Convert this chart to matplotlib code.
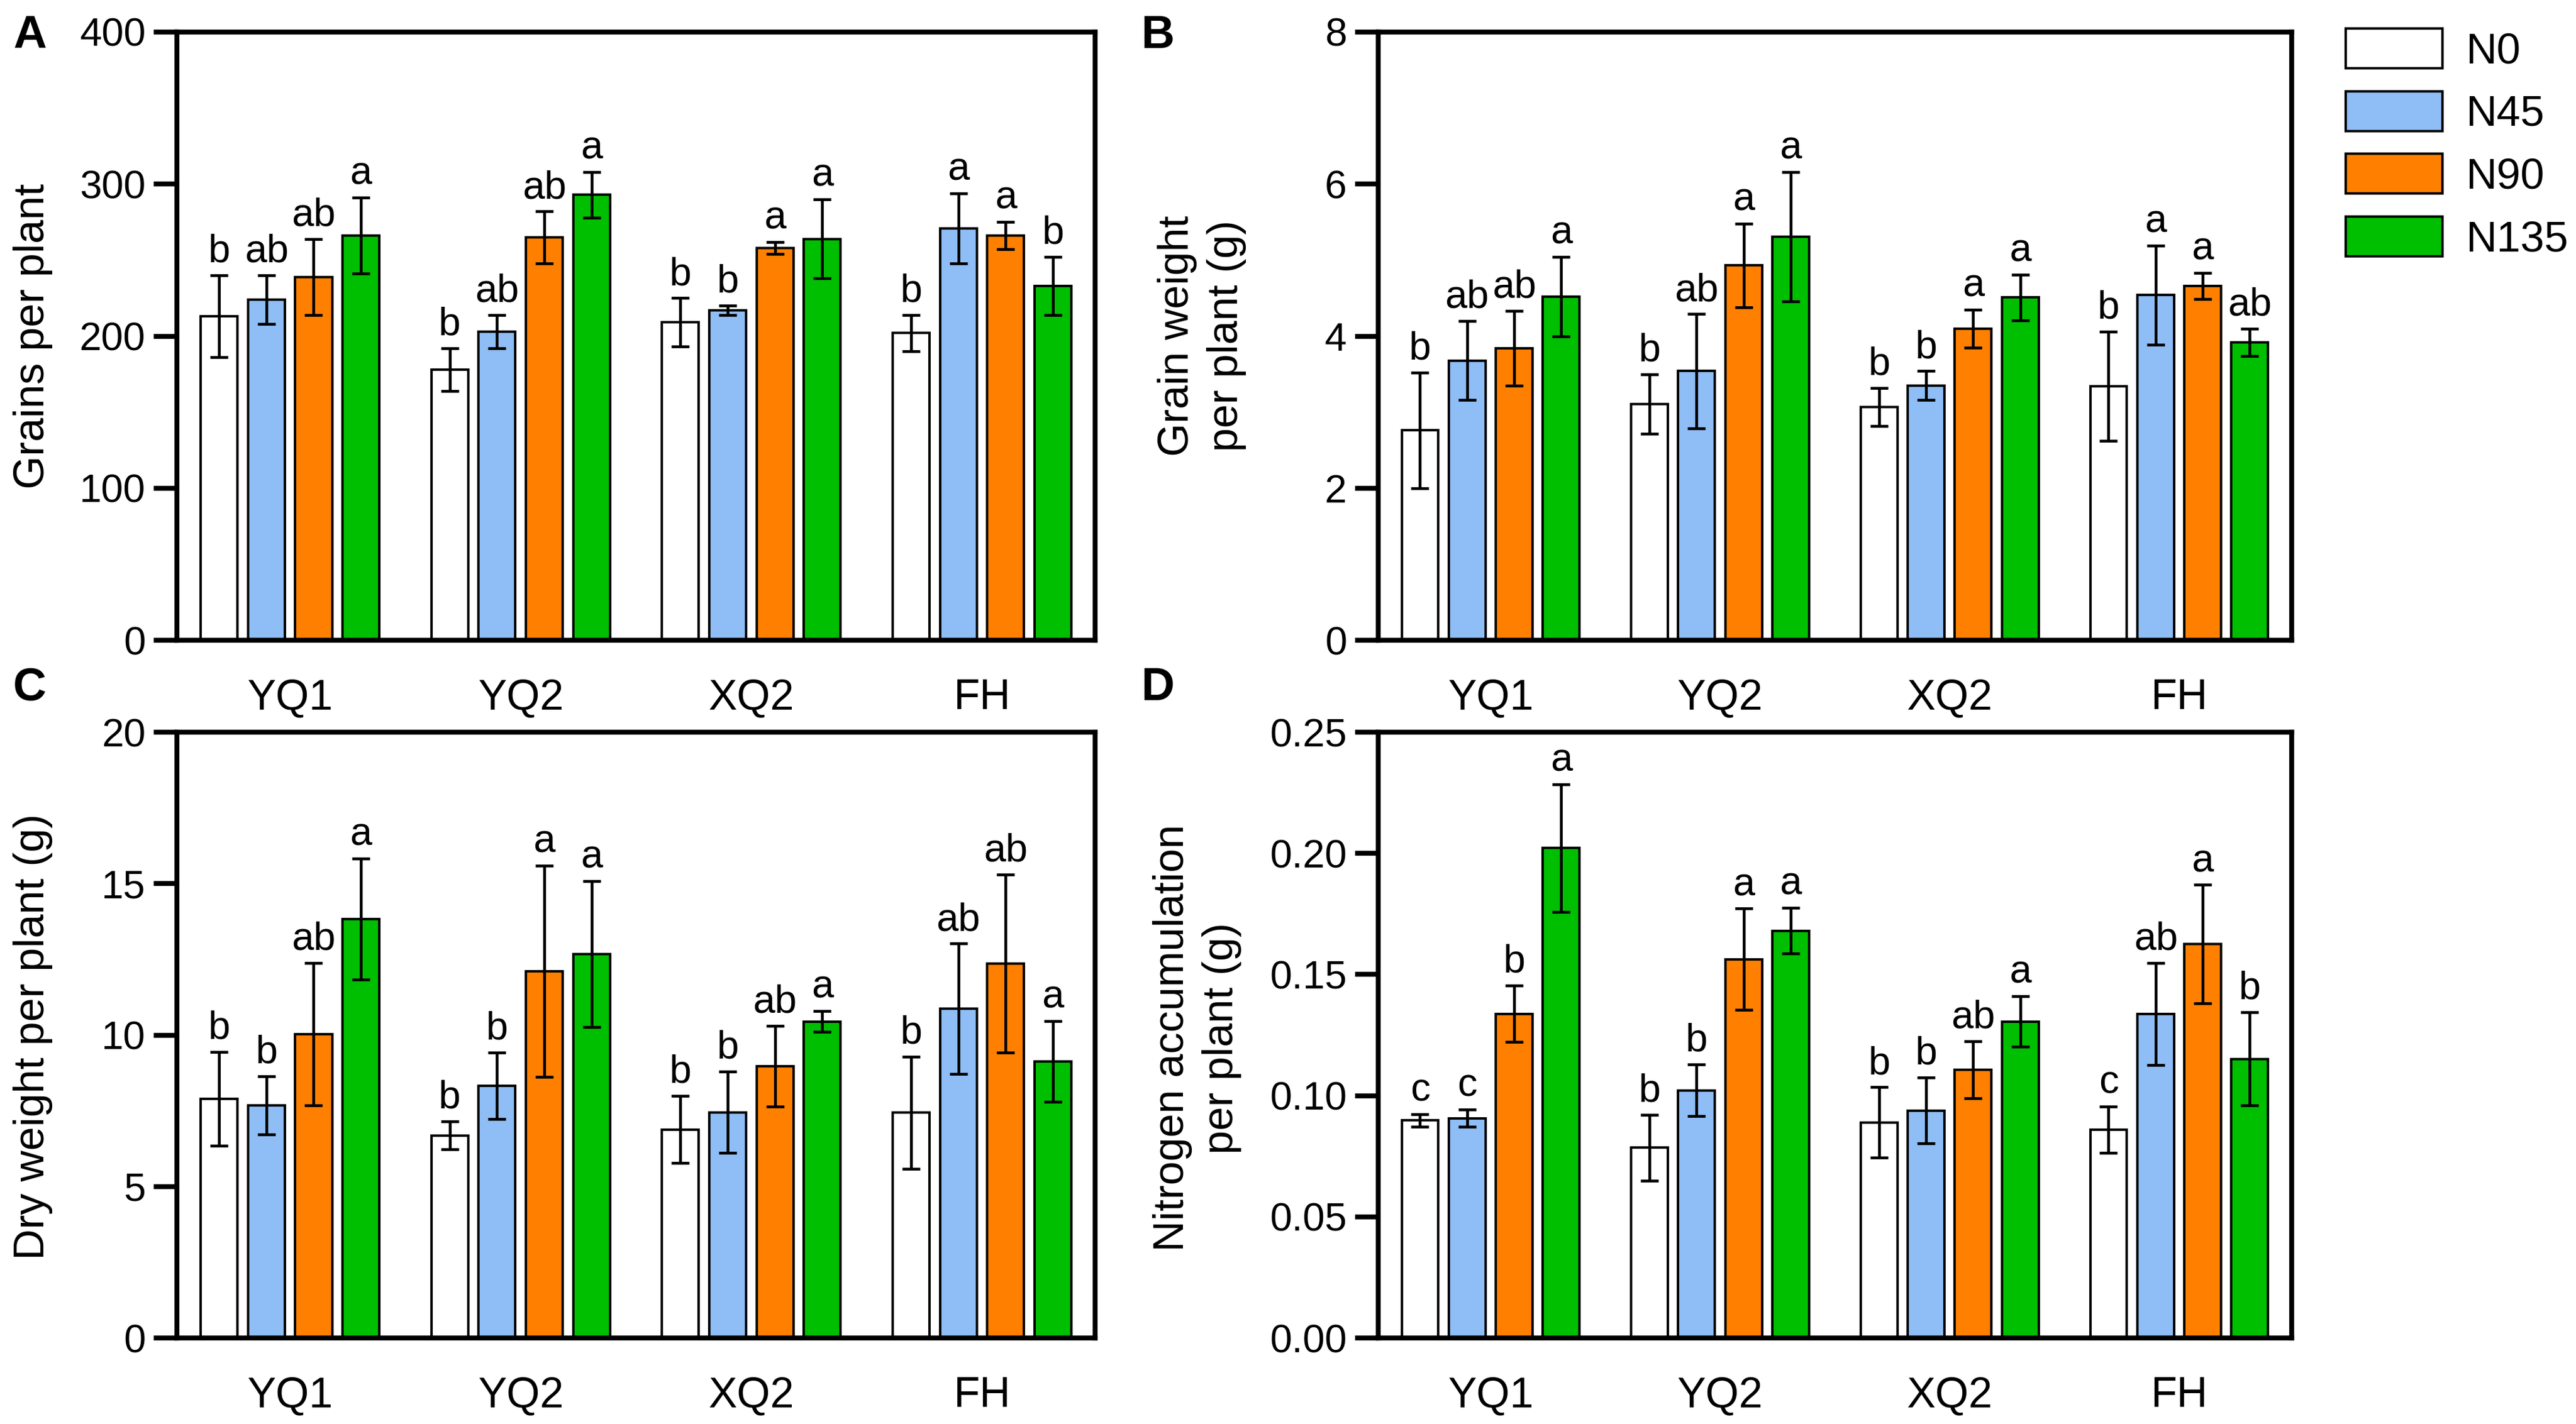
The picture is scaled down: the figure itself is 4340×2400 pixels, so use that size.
import numpy as np
import matplotlib
matplotlib.use("Agg")
import matplotlib.pyplot as plt
from matplotlib.patches import Patch
from matplotlib.ticker import FormatStrFormatter

plt.rcParams['font.family'] = ['Liberation Sans', 'DejaVu Sans']

cultivars = ['YQ1', 'YQ2', 'XQ2', 'FH']
treatments = ['N0', 'N45', 'N90', 'N135']
colors = ['#ffffff', '#8fbdf6', '#ff8000', '#00bf00']

# panel A - grains per plant
grains_mean = [[213, 178, 209, 202],
               [224, 203, 217, 271],
               [239, 265, 258, 266],
               [266, 293, 264, 233]]
grains_err = [[27, 14, 16, 12],
              [16, 11, 3, 23],
              [25, 17, 4, 9],
              [25, 15, 26, 19]]
grains_sig = [['b', 'b', 'b', 'b'],
              ['ab', 'ab', 'b', 'a'],
              ['ab', 'ab', 'a', 'a'],
              ['a', 'a', 'a', 'b']]

# panel B - grain weight per plant
gw_mean = [[2.76, 3.11, 3.07, 3.34],
           [3.68, 3.54, 3.35, 4.54],
           [3.84, 4.93, 4.10, 4.66],
           [4.52, 5.31, 4.51, 3.92]]
gw_err = [[0.76, 0.39, 0.25, 0.72],
          [0.52, 0.75, 0.19, 0.65],
          [0.49, 0.55, 0.25, 0.17],
          [0.52, 0.85, 0.30, 0.18]]
gw_sig = [['b', 'b', 'b', 'b'],
          ['ab', 'ab', 'b', 'a'],
          ['ab', 'a', 'a', 'a'],
          ['a', 'a', 'a', 'ab']]

# panel C - dry weight per plant
dw_mean = [[7.89, 6.69, 6.88, 7.44],
           [7.68, 8.33, 7.45, 10.87],
           [10.03, 12.11, 8.98, 12.36],
           [13.83, 12.68, 10.45, 9.13]]
dw_err = [[1.55, 0.46, 1.11, 1.85],
          [0.96, 1.10, 1.34, 2.15],
          [2.35, 3.49, 1.33, 2.94],
          [2.00, 2.41, 0.35, 1.33]]
dw_sig = [['b', 'b', 'b', 'b'],
          ['b', 'b', 'b', 'ab'],
          ['ab', 'a', 'ab', 'ab'],
          ['a', 'a', 'a', 'a']]

# panel D - nitrogen accumulation per plant
na_mean = [[0.0898, 0.0785, 0.0890, 0.0860],
           [0.0907, 0.1022, 0.0939, 0.1337],
           [0.1338, 0.1563, 0.1107, 0.1625],
           [0.2022, 0.1681, 0.1306, 0.1152]]
na_err = [[0.0026, 0.0137, 0.0145, 0.0096],
          [0.0036, 0.0107, 0.0136, 0.0211],
          [0.0117, 0.0209, 0.0117, 0.0245],
          [0.0263, 0.0094, 0.0104, 0.0192]]
na_sig = [['c', 'b', 'b', 'c'],
          ['c', 'b', 'b', 'ab'],
          ['b', 'a', 'ab', 'a'],
          ['a', 'a', 'a', 'b']]

fig = plt.figure(figsize=(21.7, 12), dpi=200)

L1, R1 = 0.0687, 0.4251
L2, R2 = 0.535, 0.8896
T1, B1 = 0.9775, 0.5504
T2, B2 = 0.4858, 0.0604


def panel(rect, means, errs, sigs, ymax, step, fmt):
    ax = fig.add_axes(rect)
    x = np.arange(len(cultivars))
    pitch = 0.205
    for i in range(len(treatments)):
        xs = x + (i - 1.5) * pitch
        ax.bar(xs, means[i], width=0.16, color=colors[i], edgecolor='black',
               linewidth=1.5, yerr=errs[i], zorder=2,
               error_kw=dict(ecolor='black', elinewidth=1.7, capsize=5.5,
                             capthick=1.7, zorder=3))
        for xi, m, e, s in zip(xs, means[i], errs[i], sigs[i]):
            ax.annotate(s, (xi, m + e), xytext=(0, 3), textcoords='offset points',
                        ha='center', va='bottom', fontsize=24)
    ax.set_xlim(-0.49, 3.49)
    ax.set_ylim(0, ymax)
    ax.set_yticks(np.arange(0, ymax + step / 2, step))
    ax.yaxis.set_major_formatter(FormatStrFormatter(fmt))
    ax.set_xticks(x)
    ax.set_xticklabels(cultivars, fontsize=26)
    ax.tick_params(axis='x', length=0, pad=23)
    ax.tick_params(axis='y', length=14, width=3, direction='out', labelsize=24, pad=5)
    for sp in ax.spines.values():
        sp.set_linewidth(3)
    return ax


panel([L1, B1, R1 - L1, T1 - B1], grains_mean, grains_err, grains_sig, 400, 100, '%d')
panel([L2, B1, R2 - L2, T1 - B1], gw_mean, gw_err, gw_sig, 8, 2, '%d')
panel([L1, B2, R1 - L1, T2 - B2], dw_mean, dw_err, dw_sig, 20, 5, '%d')
panel([L2, B2, R2 - L2, T2 - B2], na_mean, na_err, na_sig, 0.25, 0.05, '%.2f')

# y labels
fig.text(0.0127, 0.764, 'Grains per plant', rotation=90, ha='center', va='center', fontsize=26)
fig.text(0.4666, 0.764, 'Grain weight\nper plant (g)', rotation=90, ha='center', va='center',
         fontsize=26, linespacing=1.3, multialignment='center')
fig.text(0.0127, 0.272, 'Dry weight per plant (g)', rotation=90, ha='center', va='center', fontsize=26)
fig.text(0.4647, 0.271, 'Nitrogen accumulation\nper plant (g)', rotation=90, ha='center', va='center',
         fontsize=26, linespacing=1.3, multialignment='center')

# panel letters
for lab, px, py in [('A', 0.005, 0.99), ('B', 0.443, 0.99), ('C', 0.005, 0.532), ('D', 0.443, 0.532)]:
    fig.text(px, py, lab, fontsize=28, fontweight='bold', ha='left', va='top')

handles = [Patch(facecolor=c, edgecolor='black', linewidth=1.5) for c in colors]
fig.legend(handles, treatments, loc='upper left', bbox_to_anchor=(0.9106, 0.98),
           frameon=False, fontsize=26, handlelength=2.25, handleheight=1.05,
           labelspacing=0.45, handletextpad=0.55, borderpad=0, borderaxespad=0)

fig.savefig('out.png', dpi=200)
